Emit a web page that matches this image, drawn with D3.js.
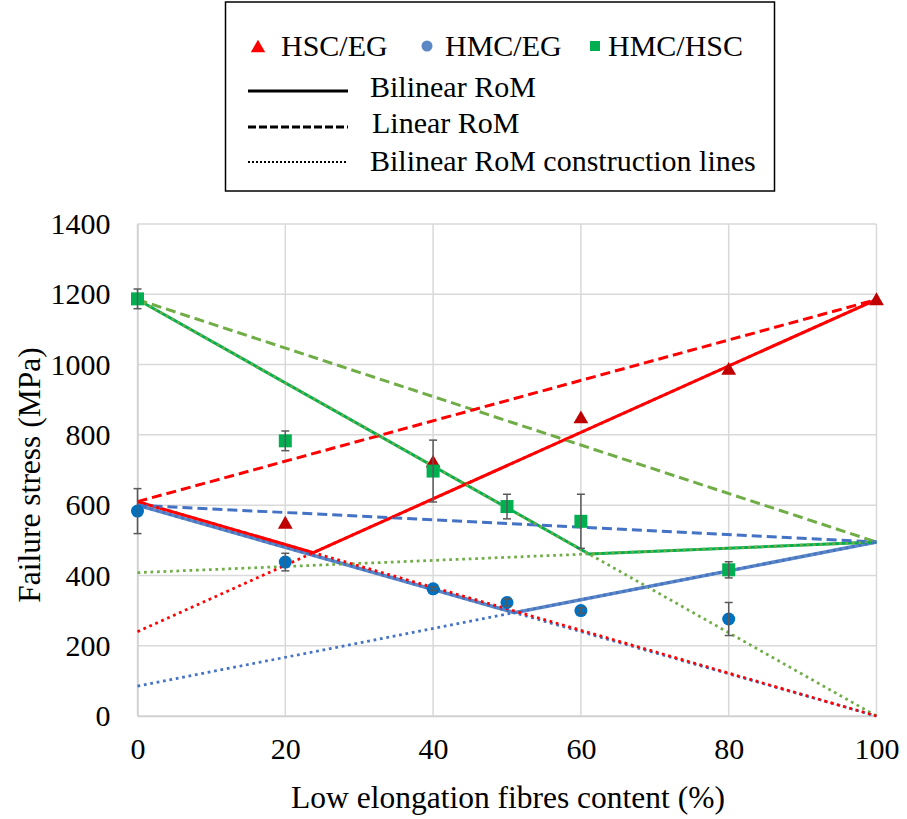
<!DOCTYPE html>
<html>
<head>
<meta charset="utf-8">
<script src="https://cdn.jsdelivr.net/npm/d3@7/dist/d3.min.js"></script>
<style>
  html, body { margin: 0; padding: 0; background: #fff; }
  svg { display: block; }
</style>
</head>
<body>
<svg id="chart" width="907" height="819"></svg>
<script>
// Measured failure stress (MPa) vs low-elongation fibre content (%)
const hscEgX   = [20, 40, 60, 80, 100];
const hscEgY   = [548, 722, 848, 986, 1184];
const hscEgErr = [0, 0, 0, 0, 0];

const hmcEgX   = [0, 20, 40, 50, 60, 80];
const hmcEgY   = [583, 438, 362, 323, 300, 276];
const hmcEgErr = [64, 25, 5, 10, 8, 47];

const hmcHscX   = [0, 20, 40, 50, 60, 80];
const hmcHscY   = [1187, 783, 697, 596, 554, 416];
const hmcHscErr = [28, 28, 88, 35, 77, 23];

// Rule-of-mixtures predictions: [content, stress] vertices
const linearRed   = [[0, 610], [100, 1185]];
const linearBlue  = [[0, 600], [100, 495]];
const linearGreen = [[0, 1185], [100, 495]];

const bilinearRed   = [[0, 610], [23.8, 465], [100, 1185]];
const bilinearBlue  = [[0, 600], [51.0, 294], [100, 495]];
const bilinearGreen = [[0, 1185], [61.1, 461], [100, 495]];

const constrRedA   = [[0, 610], [100, 0]];
const constrRedB   = [[0, 240], [100, 1185]];
const constrBlueA  = [[0, 600], [100, 0]];
const constrBlueB  = [[0, 85], [100, 495]];
const constrGreenA = [[0, 1185], [100, 0]];
const constrGreenB = [[0, 408], [100, 495]];

const xTicks = [0, 20, 40, 60, 80, 100];
const yTicks = [0, 200, 400, 600, 800, 1000, 1200, 1400];

const FONT = "Liberation Serif";

const svg = d3.select("#chart");
const x = d3.scaleLinear().domain([0, 100]).range([137.5, 876.5]);
const y = d3.scaleLinear().domain([0, 1400]).range([716, 224]);

// Gridlines
const grid = svg.append("g");
grid.selectAll("line.h").data(yTicks).join("line")
  .attr("x1", x(0)).attr("x2", x(100))
  .attr("y1", d => y(d)).attr("y2", d => y(d))
  .attr("stroke", "#d9d9d9").attr("stroke-width", 1.5);
grid.selectAll("line.v").data(xTicks).join("line")
  .attr("y1", y(0)).attr("y2", y(1400))
  .attr("x1", d => x(d)).attr("x2", d => x(d))
  .attr("stroke", "#d9d9d9").attr("stroke-width", 1.5);

// Axes
const xAxis = svg.append("g").attr("transform", `translate(0,${y(0)})`)
  .call(d3.axisBottom(x).tickValues(xTicks).tickFormat(d3.format("d")).tickSize(0).tickPadding(22));
const yAxis = svg.append("g").attr("transform", `translate(${x(0)},0)`)
  .call(d3.axisLeft(y).tickValues(yTicks).tickFormat(d3.format("d")).tickSize(0).tickPadding(27));
[xAxis, yAxis].forEach(a => {
  a.attr("font-family", null).attr("font-size", null);
  a.select(".domain").attr("stroke", "#d0d0d0").attr("stroke-width", 1.5);
  a.selectAll("text").attr("fill", "#000")
    .style("font-family", FONT).style("font-size", "30px");
});
xAxis.selectAll("text").attr("dy", "0.71em");

const line = d3.line().x(d => x(d[0])).y(d => y(d[1]));
const lines = svg.append("g").attr("fill", "none");
function draw(pts, color, width, dash) {
  const p = lines.append("path").attr("d", line(pts))
    .attr("stroke", color).attr("stroke-width", width);
  if (dash) p.attr("stroke-dasharray", dash);
}

// Bilinear RoM (solid)
draw(bilinearBlue, "#5b87c5", 3.5);
draw(bilinearGreen, "#00b050", 3);
draw(bilinearRed, "#ff0000", 3);
// Linear RoM (dashed)
draw(linearGreen, "#70ad47", 3, "10 5");
draw(linearBlue, "#4472c4", 3, "10 5");
draw(linearRed, "#ff0000", 3, "10 5");
// Construction lines (dotted)
draw(constrGreenA, "#70ad47", 2.75, "2.75 3.75");
draw(constrGreenB, "#70ad47", 2.75, "2.75 3.75");
draw(constrBlueA, "#4472c4", 2.75, "2.75 3.75");
draw(constrBlueB, "#4472c4", 2.75, "2.75 3.75");
draw(constrRedB, "#ff0000", 2.75, "2.75 3.75");
draw(constrRedA, "#ff0000", 2.75, "2.75 3.75");

// Markers
const marks = svg.append("g");
const tri = d3.symbol().type(d3.symbolTriangle).size(95);
marks.selectAll("path.tri").data(hscEgX.map((v, i) => [v, hscEgY[i]])).join("path")
  .attr("d", tri).attr("transform", d => `translate(${x(d[0])},${y(d[1]) + 1})`)
  .attr("fill", "#c00000");
marks.selectAll("circle").data(hmcEgX.map((v, i) => [v, hmcEgY[i]])).join("circle")
  .attr("cx", d => x(d[0])).attr("cy", d => y(d[1])).attr("r", 6.5)
  .attr("fill", "#0070c0");
marks.selectAll("rect").data(hmcHscX.map((v, i) => [v, hmcHscY[i]])).join("rect")
  .attr("x", d => x(d[0]) - 6.5).attr("y", d => y(d[1]) - 6.5)
  .attr("width", 13).attr("height", 13).attr("fill", "#00b050");

// Error bars
const errs = svg.append("g").attr("stroke", "#595959").attr("stroke-width", 1.5);
function errorBars(xs, ys, es) {
  xs.forEach((v, i) => {
    const e = es[i];
    if (!e) return;
    const cx = x(v), y1 = y(ys[i] + e), y2 = y(ys[i] - e);
    errs.append("line").attr("x1", cx).attr("x2", cx).attr("y1", y1).attr("y2", y2);
    errs.append("line").attr("x1", cx - 4).attr("x2", cx + 4).attr("y1", y1).attr("y2", y1);
    errs.append("line").attr("x1", cx - 4).attr("x2", cx + 4).attr("y1", y2).attr("y2", y2);
  });
}
errorBars(hscEgX, hscEgY, hscEgErr);
errorBars(hmcEgX, hmcEgY, hmcEgErr);
errorBars(hmcHscX, hmcHscY, hmcHscErr);

// Axis titles
svg.append("text").attr("x", 508).attr("y", 808).attr("text-anchor", "middle")
  .style("font-family", FONT).style("font-size", "31.5px")
  .text("Low elongation fibres content (%)");
svg.append("text").attr("transform", "translate(40,475) rotate(-90)")
  .attr("text-anchor", "middle")
  .style("font-family", FONT).style("font-size", "31.5px")
  .text("Failure stress (MPa)");

// Legend
const lg = svg.append("g");
lg.append("rect").attr("x", 225.5).attr("y", 2).attr("width", 549).attr("height", 189)
  .attr("fill", "#fff").attr("stroke", "#000").attr("stroke-width", 1.5);
function legendText(tx, ty, label) {
  lg.append("text").attr("x", tx).attr("y", ty)
    .style("font-family", FONT).style("font-size", "30px").text(label);
}
lg.append("path").attr("d", d3.symbol().type(d3.symbolTriangle).size(90)())
  .attr("transform", "translate(258,48)").attr("fill", "#ff0000");
legendText(281, 56, "HSC/EG");
lg.append("circle").attr("cx", 427).attr("cy", 46).attr("r", 5.5).attr("fill", "#5b87c5");
legendText(445, 56, "HMC/EG");
lg.append("rect").attr("x", 590).attr("y", 41).attr("width", 10).attr("height", 10).attr("fill", "#00b050");
legendText(608, 56, "HMC/HSC");

const legendRows = [
  { y: 91, dash: null, w: 3, label: "Bilinear RoM", ty: 97, tx: 370 },
  { y: 127, dash: "8 3", w: 3, label: "Linear RoM", ty: 133, tx: 372 },
  { y: 162, dash: "2 2", w: 2, label: "Bilinear RoM construction lines", ty: 171, tx: 370 }
];
legendRows.forEach(r => {
  const l = lg.append("line").attr("x1", 248).attr("x2", 348).attr("y1", r.y).attr("y2", r.y)
    .attr("stroke", "#000").attr("stroke-width", r.w);
  if (r.dash) l.attr("stroke-dasharray", r.dash);
  legendText(r.tx, r.ty, r.label);
});
</script>
</body>
</html>
